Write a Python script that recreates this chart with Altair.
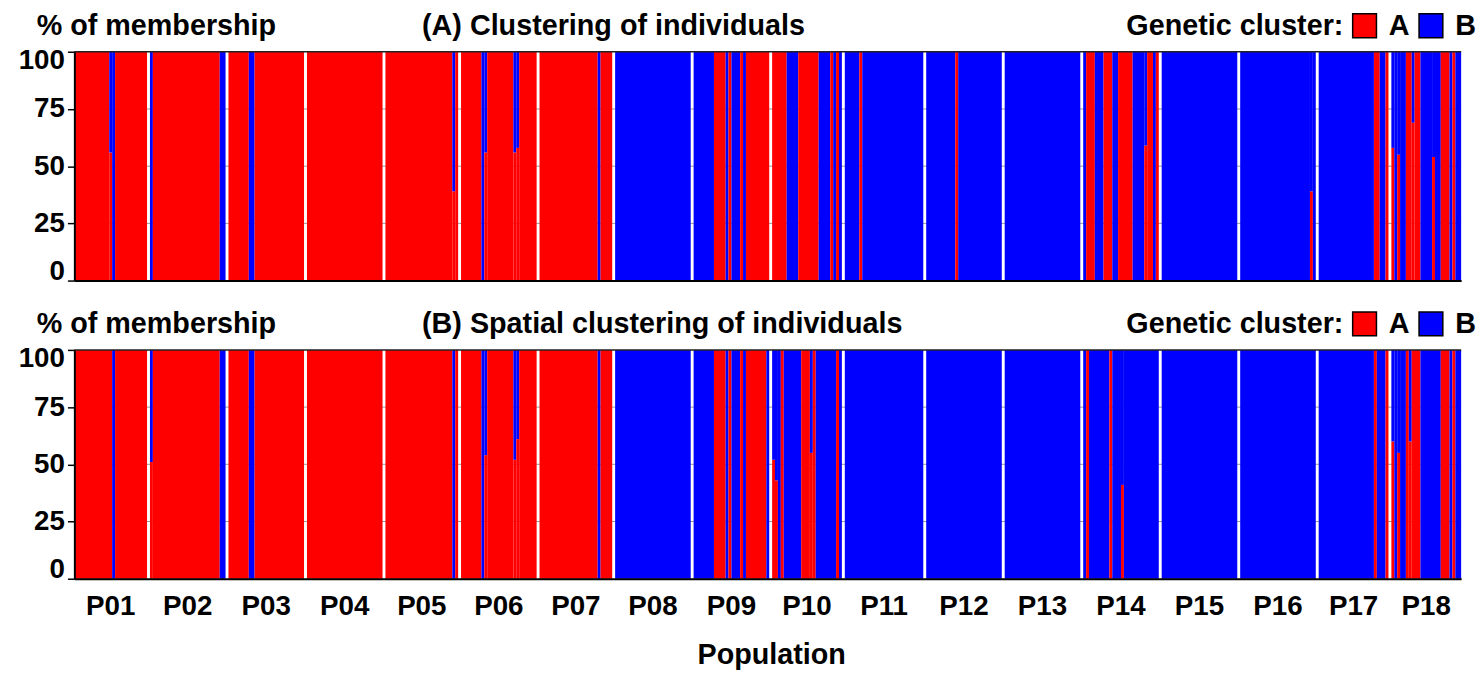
import altair as alt
import pandas as pd

# ---------------- data ----------------
POPS = ["P01", "P02", "P03", "P04", "P05", "P06", "P07", "P08", "P09",
        "P10", "P11", "P12", "P13", "P14", "P15", "P16", "P17", "P18"]

# runs of individuals per population: (number of individuals, % membership in cluster A)
RUNS_A = [
    [(12, 100), (1, 56), (1, 0), (11, 100)],
    [(1, 0), (23, 100), (2, 0)],
    [(7, 100), (2, 0), (17, 100)],
    [(26, 100)],
    [(23, 100), (1, 39), (1, 100)],
    [(7, 100), (1, 0), (1, 56), (9, 100), (1, 56), (1, 58), (6, 100)],
    [(20, 100), (1, 0), (4, 100)],
    [(26, 0)],
    [(7, 0), (4, 100), (1, 0), (1, 100), (3, 0), (1, 100), (1, 0), (8, 100)],
    [(5, 100), (4, 0), (7, 100), (4, 0), (1, 100), (1, 0), (1, 100), (1, 0)],
    [(5, 0), (1, 100), (21, 0)],
    [(10, 0), (1, 100), (15, 0)],
    [(26, 0)],
    [(1, 0), (3, 100), (3, 0), (3, 100), (2, 0), (5, 100), (4, 0), (1, 59), (2, 100), (1, 0), (1, 100)],
    [(26, 0)],
    [(24, 0), (1, 39), (1, 0)],
    [(19, 0), (2, 100), (2, 0), (1, 100)],
    [(1, 58), (1, 0), (1, 55), (2, 0), (2, 100), (1, 69), (2, 100), (4, 0), (1, 54), (2, 0), (3, 100), (1, 0), (1, 100), (2, 0)],
]

RUNS_B = [
    [(13, 100), (1, 0), (11, 100)],
    [(1, 51), (23, 100), (2, 0)],
    [(7, 100), (2, 0), (17, 100)],
    [(26, 100)],
    [(23, 100), (1, 0), (1, 100)],
    [(7, 100), (1, 0), (1, 54), (9, 100), (1, 52), (1, 61), (6, 100)],
    [(20, 100), (1, 0), (4, 100)],
    [(26, 0)],
    [(7, 0), (4, 100), (1, 0), (1, 100), (3, 0), (1, 100), (1, 0), (7, 100), (1, 0)],
    [(1, 52), (1, 43), (1, 0), (1, 100), (6, 0), (3, 100), (1, 55), (1, 100), (7, 0), (1, 100), (1, 0)],
    [(27, 0)],
    [(26, 0)],
    [(26, 0)],
    [(1, 0), (1, 100), (7, 0), (1, 100), (3, 0), (1, 41), (12, 0)],
    [(26, 0)],
    [(26, 0)],
    [(19, 0), (1, 100), (3, 0), (1, 100)],
    [(1, 60), (1, 0), (1, 55), (2, 0), (1, 100), (1, 60), (3, 100), (7, 0), (3, 100), (1, 0), (1, 100), (2, 0)],
]

CLUSTERS = ["A", "B"]
COLORS = ["#ff0000", "#0000ff"]
YTICKS = [0, 25, 50, 75, 100]
GRID = [25, 50, 75]
TOP = [100]
YLABEL = "% of membership"
TITLE_A = "(A) Clustering of individuals"
TITLE_B = "(B) Spatial clustering of individuals"
LEGEND_TITLE = "Genetic cluster:"
XTITLE = "Population"

# ---------------- layout constants ----------------
W, H = 1400, 231
FONT = "Liberation Sans"
FS = 29


def build(runs):
    rows, labels = [], []
    pos = 0
    for name, pr in zip(POPS, runs):
        start = pos
        for n, a in pr:
            rows.append(dict(x0=pos, x1=pos + n, cluster="A", y0=0, y1=a))
            if a < 100:
                rows.append(dict(x0=pos, x1=pos + n, cluster="B", y0=a, y1=100))
            pos += n
        labels.append(dict(pop=name, xc=(start + pos) / 2))
        pos += 1  # white gap between populations
    return pd.DataFrame(rows), pd.DataFrame(labels), pos - 1


def panel(runs, title, bottom):
    df, lab, total = build(runs)
    xs = alt.Scale(domain=[0, total], nice=False, zero=False)
    ys = alt.Scale(domain=[0, 100], nice=False, zero=False)
    xax = alt.Axis(title=None, labels=False, ticks=False, grid=False,
                   domainColor="black", domainWidth=2, zindex=1)
    yax = alt.Axis(title=None, values=YTICKS, grid=False, labelFontSize=28,
                   labelFontWeight="bold", labelColor="black", labelPadding=3,
                   labelFlush=True, labelFlushOffset=5,
                   tickSize=7, tickColor="black", tickWidth=1.5,
                   domainColor="black", domainWidth=2, zindex=1)

    grid = alt.Chart(pd.DataFrame({"g": GRID})).mark_rule(
        color="#9a9a9a", strokeWidth=1).encode(y=alt.Y("g:Q", scale=ys, axis=yax))

    bars = alt.Chart(df).mark_rect().encode(
        x=alt.X("x0:Q", scale=xs, axis=xax),
        x2="x1:Q",
        y=alt.Y("y0:Q", scale=ys, axis=yax),
        y2="y1:Q",
        color=alt.Color(
            "cluster:N",
            scale=alt.Scale(domain=CLUSTERS, range=COLORS),
            legend=alt.Legend(
                title=LEGEND_TITLE, orient="none", legendX=1062, legendY=-41,
                direction="horizontal", titleOrient="left",
                titleFontSize=FS, titleFontWeight="bold", titleColor="black",
                titleFont=FONT, labelFont=FONT,
                labelFontSize=FS, labelFontWeight="bold", labelColor="black",
                symbolType="square", symbolSize=576, symbolStrokeColor="black",
                symbolStrokeWidth=1.5, symbolOpacity=1, labelOffset=10,
                columnPadding=6, titlePadding=6, padding=0, titleLimit=400,
            ),
        ),
    )

    top = alt.Chart(pd.DataFrame({"t": TOP})).mark_rule(
        color="#222222", strokeWidth=1.5).encode(y=alt.Y("t:Q", scale=ys, axis=yax))

    ylab = alt.Chart(pd.DataFrame({"s": [YLABEL]})).mark_text(
        align="left", baseline="alphabetic", fontSize=FS, fontWeight="bold",
        color="black", font=FONT).encode(x=alt.value(-38), y=alt.value(-17), text="s:N")

    ttl = alt.Chart(pd.DataFrame({"s": [title]})).mark_text(
        align="left", baseline="alphabetic", fontSize=FS, fontWeight="bold",
        color="black", font=FONT).encode(x=alt.value(351), y=alt.value(-17), text="s:N")

    layers = [grid, bars, top, ylab, ttl]
    if bottom:
        plabs = alt.Chart(lab).mark_text(
            align="center", baseline="alphabetic", fontSize=28, fontWeight="bold",
            color="black", font=FONT).encode(
            x=alt.X("xc:Q", scale=xs, axis=xax), y=alt.value(H + 36.5), text="pop:N")
        xt = alt.Chart(pd.DataFrame({"s": [XTITLE]})).mark_text(
            align="center", baseline="alphabetic", fontSize=FS, fontWeight="bold",
            color="black", font=FONT).encode(
            x=alt.value(W / 2 + 4), y=alt.value(H + 86), text="s:N")
        layers += [plabs, xt]
    return alt.layer(*layers).properties(width=W, height=H)


chart = alt.vconcat(
    panel(RUNS_A, TITLE_A, False),
    panel(RUNS_B, TITLE_B, True),
    spacing=24,
).resolve_legend(color="independent").configure(
    font=FONT
).configure_view(stroke=None).properties(
    padding={"left": 10, "top": 0, "right": 0, "bottom": 0}
)

chart.save("out.html", embed_options={"renderer": "svg", "actions": False})
